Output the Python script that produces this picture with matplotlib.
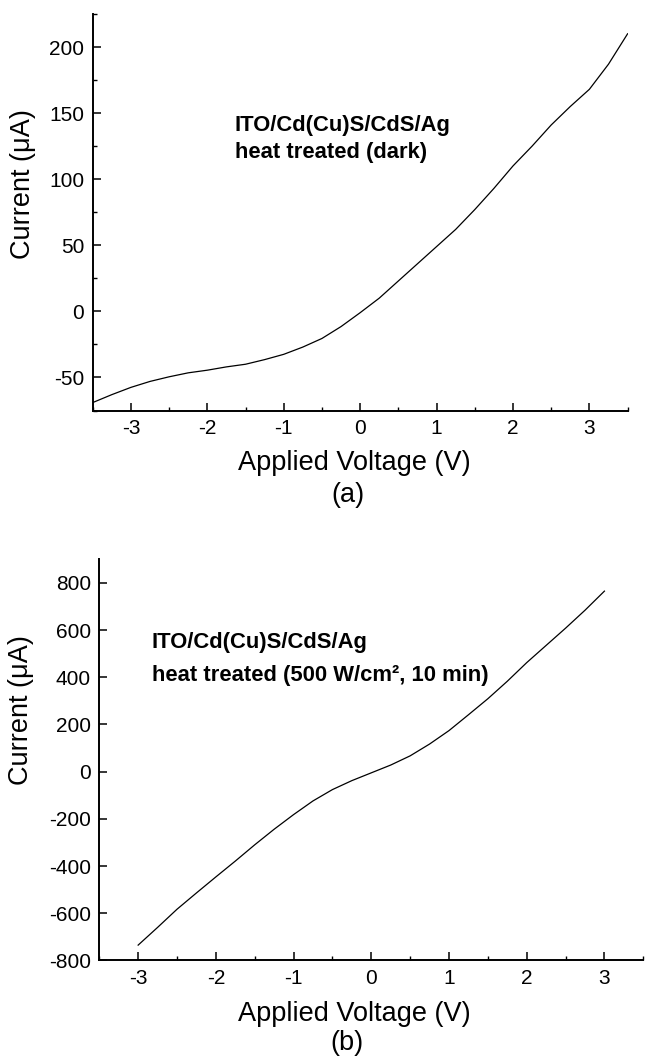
import numpy as np
import matplotlib
matplotlib.use("Agg")
import matplotlib.pyplot as plt
from matplotlib.ticker import MultipleLocator

plt.rcParams['font.family'] = ['Liberation Sans', 'DejaVu Sans']
plt.rcParams['axes.unicode_minus'] = False

# (a) dark
v_a = [-3.5, -3.25, -3.0, -2.75, -2.5, -2.25, -2.0, -1.75, -1.5, -1.25, -1.0, -0.75, -0.5, -0.25,
       0.0, 0.25, 0.5, 0.75, 1.0, 1.25, 1.5, 1.75, 2.0, 2.25, 2.5, 2.75, 3.0, 3.25, 3.5]
i_a = [-69, -63, -57.5, -53, -49.5, -46.5, -44.5, -42, -40, -36.5, -32.5, -27, -20.5, -11.5,
       -1, 10, 23, 36, 49, 62, 77, 93, 110, 125, 141, 155, 168, 187, 210]

# (b) 500 W/cm2, 10 min
v_b = [-3.0, -2.75, -2.5, -2.25, -2.0, -1.75, -1.5, -1.25, -1.0, -0.75, -0.5, -0.25,
       0.0, 0.25, 0.5, 0.75, 1.0, 1.25, 1.5, 1.75, 2.0, 2.25, 2.5, 2.75, 3.0]
i_b = [-735, -660, -583, -514, -446, -379, -310, -244, -182, -124, -76, -38,
       -5, 28, 67, 117, 174, 241, 309, 383, 462, 535, 608, 684, 765]

fig = plt.figure(figsize=(6.46, 10.58), dpi=100)

def style(ax):
    ax.spines['top'].set_visible(False)
    ax.spines['right'].set_visible(False)
    ax.spines['left'].set_linewidth(1.4)
    ax.spines['bottom'].set_linewidth(1.4)
    ax.tick_params(which='major', direction='in', length=5.5, width=1.1, labelsize=15, pad=6)
    ax.tick_params(which='minor', direction='in', length=3, width=1.0)
    ax.xaxis.set_minor_locator(MultipleLocator(0.5))

ax1 = fig.add_axes([0.1435, 0.612, 0.828, 0.3748])
ax1.plot(v_a, i_a, color='black', lw=0.9)
ax1.set_xlim(-3.5, 3.5)
ax1.set_ylim(-75, 225)
ax1.set_xticks([-3, -2, -1, 0, 1, 2, 3])
ax1.set_yticks([-50, 0, 50, 100, 150, 200])
ax1.yaxis.set_minor_locator(MultipleLocator(25))
style(ax1)
ax1.set_xlabel("Applied Voltage (V)", fontsize=19.5, va='baseline')
ax1.xaxis.set_label_coords(0.49, -0.150)
ax1.set_ylabel(u"Current (\u03bcA)", fontsize=19.5, va='center')
ax1.yaxis.set_label_coords(-0.131, 0.570)
ax1.text(0.266, 0.7057, "ITO/Cd(Cu)S/CdS/Ag", transform=ax1.transAxes,
         fontsize=15.8, fontweight='bold', va='baseline')
ax1.text(0.266, 0.6368, "heat treated (dark)", transform=ax1.transAxes,
         fontsize=15.8, fontweight='bold', va='baseline')
ax1.text(0.477, -0.231, "(a)", transform=ax1.transAxes, fontsize=19.5,
         ha='center', va='baseline')

ax2 = fig.add_axes([0.1537, 0.0922, 0.8421, 0.3792])
ax2.plot(v_b, i_b, color='black', lw=0.9)
ax2.set_xlim(-3.5, 3.5)
ax2.set_ylim(-800, 900)
ax2.set_xticks([-3, -2, -1, 0, 1, 2, 3])
ax2.set_yticks(np.arange(-800, 801, 200))
style(ax2)
ax2.set_xlabel("Applied Voltage (V)", fontsize=19.5, va='baseline')
ax2.xaxis.set_label_coords(0.468, -0.151)
ax2.set_ylabel(u"Current (\u03bcA)", fontsize=19.5, va='center')
ax2.yaxis.set_label_coords(-0.143, 0.624)
ax2.text(0.0963, 0.778, "ITO/Cd(Cu)S/CdS/Ag", transform=ax2.transAxes,
         fontsize=15.8, fontweight='bold', va='baseline')
ax2.text(0.0963, 0.697, u"heat treated (500 W/cm\u00b2, 10 min)", transform=ax2.transAxes,
         fontsize=15.8, fontweight='bold', va='baseline')
ax2.text(0.455, -0.222, "(b)", transform=ax2.transAxes, fontsize=19.5,
         ha='center', va='baseline')

plt.savefig("out.png", dpi=100)
